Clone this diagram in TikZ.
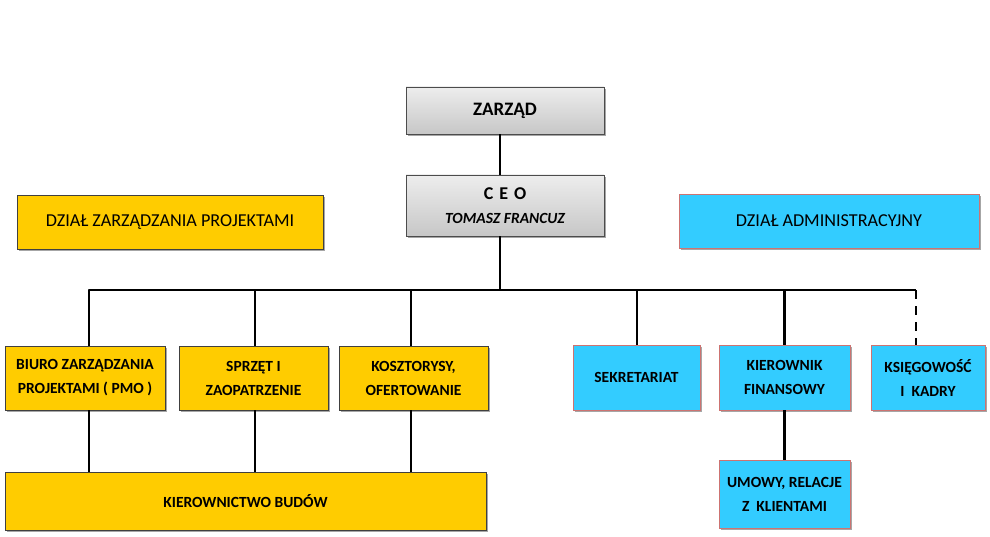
\documentclass[tikz,border=0pt]{standalone}
\usepackage{fontspec}
\setmainfont{Carlito}
\usetikzlibrary{shadows}
\definecolor{yel}{HTML}{FFCC00}
\definecolor{cya}{HTML}{33CCFF}
\definecolor{redb}{HTML}{C0504D}
\begin{document}
\begin{tikzpicture}[x=1pt,y=-1pt,
  base/.style={draw, line width=0.8pt, align=center, inner sep=0pt,
    drop shadow={shadow xshift=1.5pt, shadow yshift=-2pt, opacity=0.35, fill=black}},
  graybox/.style={base, draw=black!70, top color=white!93!black, bottom color=black!22, font=\fontsize{15.5}{24}\selectfont\bfseries},
  yelbox/.style={base, draw=black!75, fill=yel, font=\fontsize{15.5}{24}\selectfont\bfseries},
  cyabox/.style={base, draw=redb!80, fill=cya, font=\fontsize{15.5}{24}\selectfont\bfseries},
  bigbox/.style={font=\fontsize{18.2}{22}\selectfont\mdseries},
  conn/.style={line width=2.9pt, line join=round, black},
  wh/.style 2 args={minimum width=#1, minimum height=#2}]
\useasboundingbox (0,0) rectangle (990,537);

\node[graybox, wh={198}{47}, font=\fontsize{19}{22}\selectfont\bfseries] (zarzad) at (505,110.5) {ZARZĄD};
\node[graybox, wh={198}{61}] (ceo) at (505,205.5) {{\fontsize{18}{24}\selectfont C\hspace{6pt}E\hspace{6pt}O}\\{\itshape TOMASZ FRANCUZ}};

\node[yelbox, bigbox, wh={306}{54}] (dzp) at (170,222) {DZIAŁ ZARZĄDZANIA PROJEKTAMI};
\node[cyabox, bigbox, wh={300}{54}] (dadm) at (829,221) {DZIAŁ ADMINISTRACYJNY};

\node[yelbox, wh={160}{64}] (biuro) at (85,378) {BIURO ZARZĄDZANIA\\PROJEKTAMI ( PMO )};
\node[yelbox, wh={149}{64}] (sprzet) at (253.5,378) {SPRZĘT I\\ZAOPATRZENIE};
\node[yelbox, wh={149}{64}] (koszt) at (413.5,378) {KOSZTORYSY,\\OFERTOWANIE};
\node[yelbox, wh={481}{58}] (kier) at (245.5,501) {KIEROWNICTWO BUDÓW};

\node[cyabox, wh={127}{65}] (sekr) at (636.5,377.5) {\raisebox{-5pt}{SEKRETARIAT}};
\node[cyabox, wh={131}{65}] (kfin) at (784.5,377.5) {KIEROWNIK\\FINANSOWY};
\node[cyabox, wh={114}{65}] (ksieg) at (928,377.5) {KSIĘGOWOŚĆ\\I\ \ KADRY};
\node[cyabox, wh={131}{68}] (umowy) at (784.5,494) {UMOWY, RELACJE\\Z\ \ KLIENTAMI};

\coordinate (bus) at (500,290);
\coordinate (kd) at (916,290);
\coordinate (b1) at (89,290);

\draw[conn] (zarzad.south -| bus) -- (ceo.north -| bus);
\draw[conn] (ceo.south -| bus) -- (bus);
\draw[conn] (b1 |- biuro.north) -- (b1) -- (kd);
\draw[conn] (sprzet.north -| 255,0) -- (255,290);
\draw[conn] (koszt.north -| 411,0) -- (411,290);
\draw[conn] (sekr.north -| 637,0) -- (637,290);
\draw[conn] (kfin.north) -- (kfin.north |- bus);
\draw[conn, dash pattern=on 9pt off 7pt] (kd) -- (kd |- ksieg.north);

\draw[conn] (biuro.south -| b1) -- (kier.north -| b1);
\draw[conn] (sprzet.south -| 255,0) -- (kier.north -| 255,0);
\draw[conn] (koszt.south -| 411,0) -- (kier.north -| 411,0);
\draw[conn] (kfin.south) -- (umowy.north);
\end{tikzpicture}
\end{document}
